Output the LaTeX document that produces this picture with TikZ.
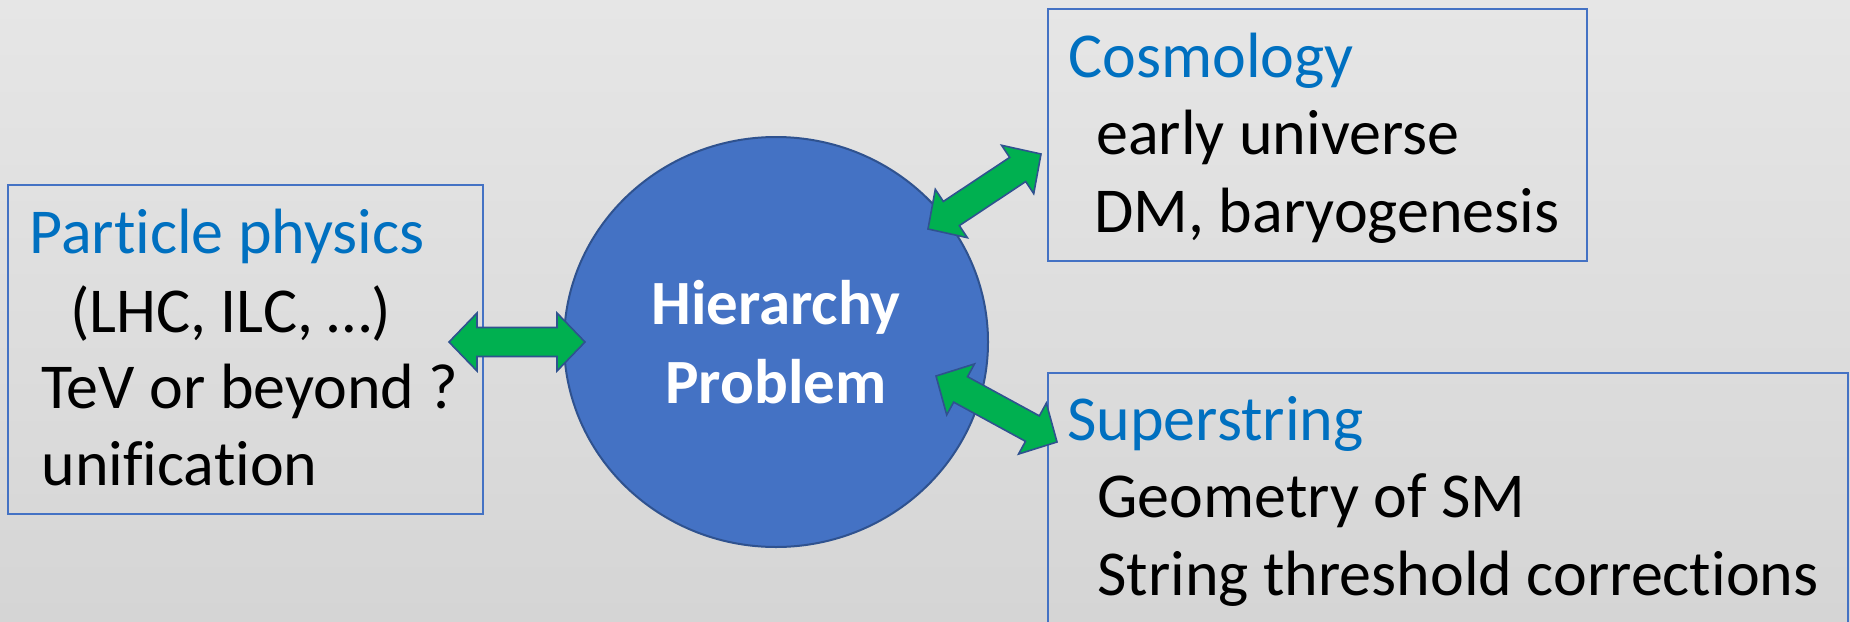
\documentclass[tikz,border=0pt]{standalone}
\usepackage{fontspec}
\setmainfont[Ligatures={NoCommon}]{Carlito}
\usetikzlibrary{calc,shapes.geometric}
\definecolor{bgtop}{RGB}{230,230,230}
\definecolor{bgbot}{RGB}{213,213,213}
\definecolor{obl}{HTML}{4472C4}
\definecolor{dbl}{HTML}{2F528F}
\definecolor{hdr}{HTML}{0070C0}
\definecolor{grn}{HTML}{00B050}
\tikzset{
 box/.style={draw=obl, line width=0.75pt, rectangle, inner sep=0pt},
 txt/.style={anchor=base west, inner sep=0pt, font=\fontsize{32}{38.5}\selectfont},
 hdrtxt/.style={txt, text=hdr},
 blockarrow/.style={fill=grn, draw=dbl, line width=0.8pt, line join=miter},
 hpstyle/.style={ellipse, fill=obl, draw=dbl, line width=1pt, inner sep=0pt,
   minimum width=212pt, minimum height=205pt, text=white, align=center,
   font=\bfseries\fontsize{31.5}{39.5}\selectfont},
}
\newcommand\fatdarrow[2]{%
 \draw[blockarrow] (#1)
  -- ($(#1)!14pt!(#2)!14.5pt!90:(#2)$)
  -- ($(#1)!14pt!(#2)!7.25pt!90:(#2)$)
  -- ($(#2)!14pt!(#1)!7.25pt!-90:(#1)$)
  -- ($(#2)!14pt!(#1)!14.5pt!-90:(#1)$)
  -- (#2)
  -- ($(#2)!14pt!(#1)!14.5pt!90:(#1)$)
  -- ($(#2)!14pt!(#1)!7.25pt!90:(#1)$)
  -- ($(#1)!14pt!(#2)!7.25pt!-90:(#2)$)
  -- ($(#1)!14pt!(#2)!14.5pt!-90:(#2)$)
  -- cycle;}
\begin{document}
\begin{tikzpicture}[x=0.5pt,y=-0.5pt]
\useasboundingbox (0,0) rectangle (1850,621);
\clip (0,0) rectangle (1850,621);
\shade[top color=bgtop,bottom color=bgbot] (0,0) rectangle (1850,621);

% boxes
\node[box, minimum width=237.5pt, minimum height=164.5pt] (pp) at (245.5,349.5) {};
\node[box, minimum width=269.5pt, minimum height=126pt] (cos) at (1317.5,135) {};
\node[box, minimum width=400pt, minimum height=143.5pt] (ss) at (1448,516.5) {};

% centre
\node[hpstyle] (hp) at (776,342) {Hierarchy\\Problem};

% texts
\node[hdrtxt] (pp1) at (29,253) {Particle physics};
\node[txt] (pp2) at (70,332) {(LHC, ILC, …)};
\node[txt] (pp3) at (41,408) {TeV or beyond ?};
\node[txt] (pp4) at (41,485) {unification};

\node[hdrtxt] (cos1) at (1068,77) {Cosmology};
\node[txt] (cos2) at (1096,154) {early universe};
\node[txt] (cos3) at (1094,232) {DM, baryogenesis};

\node[hdrtxt] (ss1) at (1067,440) {Superstring};
\node[txt] (ss2) at (1097,517) {Geometry of SM};
\node[txt] (ss3) at (1097,595) {String threshold corrections};

% arrows
\coordinate (a1) at (449,342); \coordinate (b1) at (585,342);
\coordinate (a2) at (928,229); \coordinate (b2) at (1041,154);
\coordinate (a3) at (936,376); \coordinate (b3) at (1057,442);
\fatdarrow{a1}{b1}
\fatdarrow{a2}{b2}
\fatdarrow{a3}{b3}
\end{tikzpicture}
\end{document}
